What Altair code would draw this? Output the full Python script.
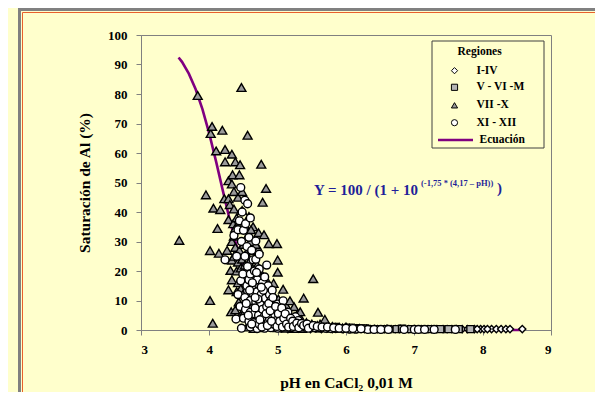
import altair as alt
import pandas as pd

# ---------------- data ----------------
# VII - X (triangles)
tri_ph = [3.56, 3.83, 3.95, 4.01, 4.01, 4.05, 4.02, 4.04, 4.06, 4.10, 4.12, 4.14, 4.16, 4.19, 4.23, 4.23,
          4.22, 4.26, 4.28, 4.28, 4.28, 4.28, 4.30, 4.31, 4.32, 4.33, 4.33, 4.33, 4.33, 4.33, 4.34, 4.35,
          4.36, 4.36, 4.36, 4.36, 4.38, 4.38, 4.38, 4.38, 4.40, 4.40, 4.40, 4.42, 4.42, 4.42, 4.43, 4.44,
          4.44, 4.45, 4.46, 4.46, 4.46, 4.46, 4.47, 4.48, 4.48, 4.48, 4.48, 4.50, 4.50, 4.52, 4.52, 4.52,
          4.53, 4.54, 4.54, 4.55, 4.56, 4.56, 4.56, 4.58, 4.58, 4.58, 4.60, 4.60, 4.62, 4.62, 4.64, 4.64,
          4.64, 4.65, 4.66, 4.68, 4.70, 4.70, 4.70, 4.72, 4.74, 4.74, 4.76, 4.76, 4.76, 4.78, 4.78, 4.80,
          4.80, 4.82, 4.83, 4.86, 4.86, 4.87, 4.88, 4.90, 4.94, 4.94, 4.96, 4.99, 5.00, 5.00, 5.00, 5.02,
          5.04, 5.08, 5.10, 5.12, 5.12, 5.16, 5.18, 5.24, 5.24, 5.28, 5.33, 5.35, 5.36, 5.38, 5.42, 5.50,
          5.52, 5.58, 5.59, 5.66, 5.69, 5.75, 5.85, 5.95, 6.05, 6.20,
          4.57, 4.63, 4.67, 4.71, 4.73, 4.77, 4.79, 4.84, 4.89, 4.92, 4.97, 5.01, 5.06, 5.09, 5.14, 5.20,
          5.26, 5.31, 5.40, 5.46, 5.55, 5.62, 5.72, 5.80, 5.90, 6.00, 6.12, 4.49, 4.51, 4.59, 4.66, 4.72,
          4.61, 4.68]
tri_sat = [30.4, 79.5, 45.8, 26.9, 10.0, 2.3, 66.6, 69.0, 41.3, 60.7, 34.4, 26.0, 40.8, 67.7, 61.2, 57.0,
           44.5, 27.0, 50.6, 44.5, 37.4, 13.6, 42.5, 20.2, 6.2, 59.6, 49.5, 30.0, 23.7, 17.0, 52.6, 36.0,
           46.9, 41.0, 31.8, 25.0, 57.0, 34.5, 28.0, 6.8, 38.0, 20.0, 13.0, 45.0, 23.0, 16.0, 9.5, 52.6,
           27.0, 56.0, 34.0, 21.0, 14.0, 5.0, 82.2, 46.9, 40.5, 24.0, 17.0, 29.0, 9.0, 35.5, 22.0, 13.0,
           4.5, 26.0, 18.0, 1.0, 66.0, 32.0, 9.5, 38.5, 23.0, 12.0, 30.0, 16.0, 8.0, 4.0, 35.0, 27.0,
           14.0, 0.5, 17.0, 11.0, 22.0, 15.0, 3.5, 33.0, 20.0, 10.0, 56.2, 18.0, 0.8, 43.3, 6.0, 32.3,
           9.0, 14.0, 48.0, 16.0, 5.5, 29.3, 1.0, 9.0, 15.8, 4.0, 11.0, 29.3, 23.7, 19.6, 0.8, 3.0,
           8.0, 13.8, 2.5, 8.5, 0.6, 4.0, 9.9, 7.9, 0.5, 5.0, 6.2, 3.5, 0.5, 10.8, 2.5, 2.0,
           17.4, 1.5, 6.0, 1.2, 3.6, 1.0, 0.8, 0.7, 0.6, 0.5,
           6.5, 2.0, 6.0, 8.0, 1.5, 12.5, 3.0, 7.5, 12.5, 2.5, 7.0, 10.5, 5.5, 1.0, 6.0, 2.0,
           3.0, 1.5, 1.0, 1.5, 0.8, 2.0, 0.8, 1.2, 0.8, 1.0, 0.6, 12.0, 6.0, 19.5, 24.5, 27.5,
           34.0, 29.0]

# XI - XII (circles)
circ_ph = [4.23, 4.39, 4.36, 4.40, 4.42, 4.42, 4.44, 4.45, 4.46, 4.46, 4.47, 4.47, 4.48, 4.49, 4.50, 4.50,
           4.52, 4.52, 4.52, 4.53, 4.53, 4.55, 4.55, 4.56, 4.56, 4.58, 4.58, 4.58, 4.60, 4.60, 4.60, 4.60,
           4.60, 4.62, 4.62, 4.64, 4.64, 4.65, 4.66, 4.66, 4.68, 4.68, 4.68, 4.70, 4.70, 4.70, 4.72, 4.73,
           4.73, 4.73, 4.75, 4.76, 4.78, 4.78, 4.80, 4.81, 4.82, 4.84, 4.86, 4.86, 4.88, 4.88, 4.90, 4.90,
           4.92, 4.92, 4.94, 4.95, 4.96, 4.98, 5.00, 5.00, 5.02, 5.05, 5.08, 5.08, 5.10, 5.12, 5.15, 5.18,
           5.20, 5.25, 5.26, 5.30, 5.33, 5.40, 5.48, 5.55, 5.62, 5.70, 5.78, 5.85, 5.95, 6.05, 6.15, 6.32,
           6.41, 6.51, 6.62, 6.85, 7.00, 7.06, 7.15, 7.29, 7.60,
           4.62, 4.67, 4.71, 4.74, 4.77, 4.79, 4.83, 4.85, 4.87, 4.89, 4.91, 4.93, 4.97, 4.99, 5.01, 5.03,
           5.06, 5.07, 5.09, 5.11, 5.13, 5.16, 5.19, 5.22, 5.23, 5.28, 5.31, 5.35, 5.38, 5.43, 5.45, 5.52,
           5.58, 5.65, 5.73, 5.82, 5.90, 6.00, 6.10, 6.22, 4.57, 4.63, 4.69, 4.54, 4.59, 4.67, 4.76, 4.81,
           4.84]
circ_sat = [23.8, 3.7, 32.0, 25.0, 12.0, 34.0, 37.0, 8.0, 48.3, 16.7, 0.6, 30.0, 40.0, 19.0, 33.8, 4.0,
            44.0, 25.0, 11.0, 7.0, 36.0, 28.3, 15.0, 42.8, 21.5, 31.4, 17.0, 3.0, 38.0, 19.0, 10.0, 6.0,
            1.0, 27.0, 14.0, 23.8, 12.5, 2.5, 20.0, 5.5, 30.2, 24.0, 9.5, 17.0, 13.0, 0.5, 5.0, 25.7,
            20.7, 2.0, 8.5, 12.0, 16.0, 7.0, 4.5, 0.6, 10.8, 8.0, 15.0, 2.5, 12.0, 4.0, 10.0, 0.8,
            7.5, 13.5, 2.0, 6.0, 5.0, 3.2, 8.8, 0.6, 1.5, 4.5, 9.9, 6.5, 1.5, 3.5, 6.0, 2.5,
            0.8, 1.8, 4.5, 3.2, 1.5, 1.0, 1.2, 0.8, 0.8, 0.6, 0.5, 0.5, 0.4, 0.3, 0.3, 0.2,
            0.2, 0.2, 0.2, 0.2, 0.2, 0.2, 0.2, 0.2, 0.2,
            2.0, 7.5, 10.5, 3.5, 1.0, 13.5, 5.5, 1.5, 9.0, 6.5, 3.0, 11.0, 8.0, 1.2, 5.5, 3.0,
            7.5, 1.0, 4.0, 5.5, 2.0, 1.0, 4.0, 3.0, 1.2, 2.3, 0.8, 2.2, 1.5, 2.0, 0.6, 1.5,
            1.2, 1.0, 1.0, 0.8, 0.6, 0.6, 0.5, 0.4, 5.0, 16.0, 19.5, 9.0, 13.5, 11.0, 14.5, 18.0,
            22.0]

# I - IV (diamonds)
dia_ph = [5.05, 5.15, 5.22, 5.30, 5.40, 5.48, 5.56, 5.64, 5.72, 5.80, 5.88, 5.96, 6.04, 6.12, 6.20, 6.27,
          6.36, 6.46, 6.56, 6.66, 6.72, 6.78, 6.92, 7.10, 7.20, 7.33, 7.42, 7.55, 7.70, 7.88, 7.97, 8.02,
          8.13, 8.20, 8.27, 8.34, 8.40, 8.58,
          5.58, 5.78, 5.98, 6.16, 6.30, 6.42, 6.60, 6.80, 7.00, 7.25, 7.48, 7.62, 7.78, 7.92, 8.07]
dia_sat = [0.5, 0.3, 0.6, 0.4, 0.5, 0.3, 0.5, 0.3, 0.4, 0.3, 0.5, 0.3, 0.4, 0.3, 0.4, 0.3,
           0.3, 0.3, 0.3, 0.3, 0.3, 0.3, 0.3, 0.3, 0.3, 0.3, 0.3, 0.3, 0.3, 0.3, 0.3, 0.3,
           0.3, 0.3, 0.3, 0.3, 0.3, 0.3,
           1.0, 0.8, 0.7, 0.6, 0.5, 0.4, 0.5, 0.4, 0.3, 0.3, 0.3, 0.3, 0.3, 0.3, 0.3]

# V - VI - M (squares)
sq_ph = [5.30, 5.45, 5.60, 5.75, 5.90, 6.00, 6.10, 6.22, 6.35, 6.48, 6.60, 6.74, 6.82, 6.95, 7.12, 7.24,
         7.38, 7.50, 7.65, 7.82, 5.50, 5.68, 5.85, 6.05, 6.15, 6.28]
sq_sat = [1.0, 0.8, 0.6, 0.5, 0.4, 0.5, 0.3, 0.4, 0.3, 0.3, 0.3, 0.3, 0.4, 0.3, 0.3, 0.3,
          0.3, 0.3, 0.3, 0.3, 1.5, 1.2, 1.0, 0.8, 0.6, 0.5]

# Ecuación
eq_ph = [3.55, 3.6, 3.7, 3.8, 3.9, 4.0, 4.1, 4.2, 4.3, 4.4, 4.5, 4.6, 4.7, 4.8, 4.9, 5.0,
         5.2, 5.4, 5.6, 5.8, 6.0, 6.5, 7.0, 7.5, 8.0, 8.58]
eq_sat = [92.4, 90.9, 86.9, 81.6, 74.8, 66.5, 57.0, 47.0, 37.2, 28.4, 20.9, 15.0, 10.6, 7.3, 5.0, 3.4,
          1.5, 0.7, 0.3, 0.14, 0.06, 0.01, 0.0, 0.0, 0.0, 0.0]

legend_labels = ["I-IV", "V - VI -M", "VII -X", "XI - XII"]
x_ticks = [3, 4, 5, 6, 7, 8, 9]
y_ticks = [0, 10, 20, 30, 40, 50, 60, 70, 80, 90, 100]

# ---------------- styling ----------------
BG = "#FFFFCC"
FONT = "Liberation Serif"
PURPLE = "#800080"
NAVY = "#1F1F99"
W, H = 410, 295

xs = alt.Scale(domain=[3, 9], nice=False, zero=False)
ys = alt.Scale(domain=[0, 100], nice=False)

x_axis = alt.Axis(values=x_ticks, format="d", title="pH en CaCl\u2082 0,01 M",
                  grid=False, domainColor="#808080", tickColor="#808080", tickSize=5,
                  labelFont=FONT, labelFontWeight="bold", labelFontSize=13, labelColor="black",
                  labelPadding=8, titleFont=FONT, titleFontWeight="bold", titleFontSize=15.5,
                  titleColor="black", titleX=W / 2, titleY=52, titleBaseline="middle",
                  titleAlign="center")
y_axis = alt.Axis(values=y_ticks, format="d", title="Saturación de Al (%)",
                  grid=False, domainColor="#808080", tickColor="#808080", tickSize=5,
                  labelFont=FONT, labelFontWeight="bold", labelFontSize=13, labelColor="black",
                  labelPadding=9, titleFont=FONT, titleFontWeight="bold", titleFontSize=15.5,
                  titleColor="black", titleX=-57, titleY=H / 2, titleBaseline="middle",
                  titleAlign="center", titleAngle=-90)


def pts(ph, sat, shape, fill, size):
    df = pd.DataFrame({"ph": ph, "sat": sat})
    return alt.Chart(df).mark_point(shape=shape, filled=True, fill=fill, stroke="black",
                                    strokeWidth=1.4, size=size, opacity=1).encode(
        x=alt.X("ph:Q", scale=xs, axis=x_axis),
        y=alt.Y("sat:Q", scale=ys, axis=y_axis),
    )


line = alt.Chart(pd.DataFrame({"ph": eq_ph, "sat": eq_sat})).mark_line(
    color=PURPLE, strokeWidth=2.6).encode(
    x=alt.X("ph:Q", scale=xs, axis=x_axis),
    y=alt.Y("sat:Q", scale=ys, axis=y_axis),
)

one = pd.DataFrame({"a": [0]})


def vrule(x, y1, y2, color, width):
    return alt.Chart(one).mark_rule(color=color, strokeWidth=width).encode(
        x=alt.value(x), y=alt.value(y1), y2=alt.value(y2))


def hrule(y, x1, x2, color, width):
    return alt.Chart(one).mark_rule(color=color, strokeWidth=width).encode(
        y=alt.value(y), x=alt.value(x1), x2=alt.value(x2))


# outer frame (page decoration)
frame = [
    vrule(-121.5, -27, 360, "#808080", 3),
    hrule(-25.5, -123, 460, "#808080", 3),
    vrule(-118.5, -22.5, 360, "#E8602C", 1),
    hrule(-22.5, -118.5, 460, "#E8602C", 1),
]

# legend
leg_box = alt.Chart(one).mark_rect(fill=BG, stroke="#404040", strokeWidth=1).encode(
    x=alt.value(291), x2=alt.value(403), y=alt.value(6), y2=alt.value(113))
leg_title = alt.Chart(one).mark_text(text="Regiones", font=FONT, fontWeight="bold", fontSize=11.5,
                                     align="center", baseline="middle", color="black").encode(
    x=alt.value(338.6), y=alt.value(17))
leg_y = [35.7, 52.3, 70.3, 87.7]
leg_shapes = [("diamond", "white"), ("square", "#B4B4B4"), ("triangle-up", "#9A9A9A"), ("circle", "white")]
leg_layers = []
for lab, yy, (shp, fl) in zip(legend_labels, leg_y, leg_shapes):
    leg_layers.append(alt.Chart(one).mark_point(shape=shp, filled=True, fill=fl, stroke="black",
                                                strokeWidth=1, size=38, opacity=1).encode(
        x=alt.value(313.5), y=alt.value(yy)))
    leg_layers.append(alt.Chart(one).mark_text(text=lab, font=FONT, fontWeight="bold", fontSize=11.5,
                                               align="left", baseline="middle", color="black").encode(
        x=alt.value(335.5), y=alt.value(yy)))
leg_line = alt.Chart(one).mark_rule(color=PURPLE, strokeWidth=2.6).encode(
    x=alt.value(297), x2=alt.value(332), y=alt.value(105))
leg_eq = alt.Chart(one).mark_text(text="Ecuación", font=FONT, fontWeight="bold", fontSize=11.5,
                                  align="left", baseline="middle", color="black").encode(
    x=alt.value(338.6), y=alt.value(105))

# equation annotation
eq_main = alt.Chart(one).mark_text(text="Y = 100 / (1 + 10", font=FONT, fontWeight="bold", fontSize=15,
                                   align="left", baseline="middle", color=NAVY).encode(
    x=alt.value(173), y=alt.value(155))
eq_sup = alt.Chart(one).mark_text(text="(-1,75 * (4,17 \u2013 pH))", font=FONT, fontWeight="bold",
                                  fontSize=8.5, align="left", baseline="middle", color=NAVY).encode(
    x=alt.value(280), y=alt.value(147.5))
eq_close = alt.Chart(one).mark_text(text=")", font=FONT, fontWeight="bold", fontSize=15,
                                    align="left", baseline="middle", color=NAVY).encode(
    x=alt.value(356), y=alt.value(153))

chart = alt.layer(
    *frame,
    line,
    pts(dia_ph, dia_sat, "diamond", "white", 50),
    pts(sq_ph, sq_sat, "square", "#B4B4B4", 50),
    pts(tri_ph, tri_sat, "triangle-up", "#9A9A9A", 80),
    pts(circ_ph, circ_sat, "circle", "white", 62),
    leg_box, leg_title, *leg_layers, leg_line, leg_eq,
    eq_main, eq_sup, eq_close,
).properties(
    width=W, height=H, background=BG,
    padding={"left": 133, "top": 27, "right": 44, "bottom": 62},
    autosize=alt.AutoSizeParams(type="none"),
).configure_view(
    stroke="#808080", strokeWidth=1
)

chart.save("out.html", embed_options={"renderer": "svg", "actions": False})
